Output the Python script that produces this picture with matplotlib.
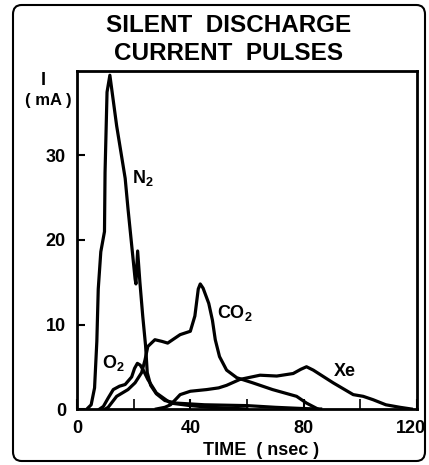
import numpy as np
import matplotlib
matplotlib.use('Agg')
import matplotlib.pyplot as plt
import matplotlib.transforms as mtransforms
from matplotlib.patches import FancyBboxPatch

plt.rcParams['font.family'] = 'Liberation Sans'
plt.rcParams['font.weight'] = 'bold'
plt.rcParams['mathtext.fontset'] = 'custom'
plt.rcParams['mathtext.rm'] = 'Liberation Sans:bold'

# Current pulses (time in nsec, current in mA)
n2_t = [3.5, 5.0, 6.2, 7.0, 7.5, 8.4, 9.7, 9.9, 10.6, 11.6, 14.0, 17.0, 18.0, 20.5,
        20.8, 21.4, 22.2, 23.2, 24.2, 24.8, 26.0, 28.0, 31.0, 35.0, 45.0, 60.0, 70.0, 80.0, 86.0]
n2_i = [0.0, 0.5, 2.5, 8.0, 14.2, 18.6, 21.0, 28.0, 37.5, 39.5, 33.5, 27.3, 23.7, 15.4,
        14.8, 18.7, 15.0, 11.0, 7.5, 4.3, 2.8, 1.8, 1.0, 0.7, 0.5, 0.4, 0.2, 0.05, 0.0]

o2_t = [8.0, 9.3, 11.0, 12.8, 15.0, 17.0, 19.3, 20.3, 21.3, 22.3, 23.4, 25.0, 28.0,
        33.0, 40.0, 47.0, 60.0]
o2_i = [0.0, 0.3, 1.3, 2.3, 2.7, 2.9, 3.8, 4.8, 5.4, 5.2, 4.6, 3.5, 1.9,
        0.7, 0.4, 0.2, 0.0]

co2_t = [10.0, 11.0, 14.0, 18.0, 20.5, 22.8, 24.0, 25.0, 27.5, 30.0, 32.0, 36.4, 40.0,
         41.6, 42.8, 43.5, 44.5, 46.5, 47.8, 48.8, 50.3, 52.8, 56.4, 62.0, 69.0,
         77.5, 81.0, 85.0]
co2_i = [0.0, 0.2, 1.5, 2.3, 3.1, 4.3, 5.8, 7.4, 8.2, 8.0, 7.8, 8.8, 9.2,
         11.0, 14.2, 14.8, 14.3, 12.5, 10.5, 8.2, 6.2, 4.6, 3.7, 3.1, 2.3,
         1.5, 0.7, 0.0]

xe_t = [28.0, 31.0, 33.0, 35.0, 36.4, 40.0, 45.8, 50.0, 52.8, 57.5, 64.6, 70.5, 76.3,
        79.0, 81.0, 83.4, 90.4, 97.5, 101.0, 104.5, 109.0, 114.0, 118.0]
xe_i = [0.0, 0.2, 0.5, 1.2, 1.7, 2.1, 2.3, 2.5, 2.8, 3.5, 4.0, 3.9, 4.2,
        4.7, 5.0, 4.6, 3.1, 1.7, 1.5, 1.1, 0.5, 0.2, 0.0]

fig = plt.figure(figsize=(4.29, 4.65), dpi=100)
ax = fig.add_axes([77 / 429, 1 - 409 / 465, 340 / 429, 338 / 465])

lw = 2.3
for t, i in [(n2_t, n2_i), (o2_t, o2_i), (co2_t, co2_i), (xe_t, xe_i)]:
    ax.plot(t, i, color='black', linewidth=lw, solid_joinstyle='round')

ax.set_xlim(0, 120)
ax.set_ylim(0, 40)
ax.set_xticks([0, 40, 80, 120])
ax.set_xticks([20, 60, 100], minor=True)
ax.set_yticks([0, 10, 20, 30])
ax.tick_params(direction='in', length=7, width=1.5, labelsize=13, pad=8)
ax.tick_params(which='minor', direction='in', length=7, width=1.2)
ax.tick_params(axis='y', length=6, pad=8)
for s in ax.spines.values():
    s.set_linewidth(2.0)

# last x label sits a bit left of its tick, inside the frame
lab = ax.get_xticklabels()[-1]
lab.set_transform(lab.get_transform() + mtransforms.ScaledTranslation(-6 / 100, 0, fig.dpi_scale_trans))

# axis title placed by hand below the tick labels
fig.text(261 / 429, 1 - 450 / 465, 'TIME  ( nsec )', fontsize=13, fontweight='bold',
         ha='center', va='center')

# curve labels
ax.text(19.5, 27.3, r'$\mathrm{N_2}$', fontsize=13, va='center')
ax.text(49.4, 11.4, r'$\mathrm{CO_2}$', fontsize=13, va='center')
ax.text(9.0, 5.5, r'$\mathrm{O_2}$', fontsize=13, va='center')
ax.text(90.5, 4.4, 'Xe', fontsize=13, va='center')

# y label at top-left
fig.text(43 / 429, 1 - 80 / 465, 'I', fontsize=13, fontweight='bold', ha='center', va='center')
fig.text(48 / 429, 1 - 100 / 465, '( mA )', fontsize=12, fontweight='bold', ha='center', va='center')

# title
fig.text(229 / 429, 1 - 25 / 465, 'SILENT  DISCHARGE', fontsize=17.5, fontweight='bold',
         ha='center', va='center')
fig.text(229 / 429, 1 - 53 / 465, 'CURRENT  PULSES', fontsize=17.5, fontweight='bold',
         ha='center', va='center')

# rounded outer frame
frame = FancyBboxPatch((13 / 429, 4 / 465), 412 / 429, 456 / 465,
                       boxstyle='round,pad=0,rounding_size=0.02',
                       transform=fig.transFigure, fill=False,
                       edgecolor='black', linewidth=1.5)
fig.patches.append(frame)

fig.savefig('out.png', dpi=100)
